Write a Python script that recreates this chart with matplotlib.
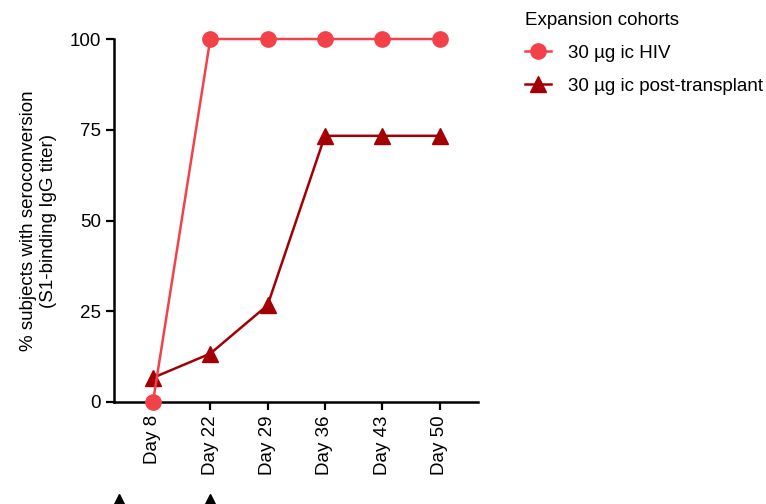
import matplotlib
matplotlib.use("Agg")
import matplotlib.pyplot as plt

plt.rcParams["font.family"] = ["Liberation Sans", "DejaVu Sans"]

days = ["Day 8", "Day 22", "Day 29", "Day 36", "Day 43", "Day 50"]
hiv = [0, 100, 100, 100, 100, 100]
post_transplant = [6.67, 13.33, 26.67, 73.33, 73.33, 73.33]
# dosing arrows (category positions: Day 1 sits left of Day 8, Day 22 at index 1)
dose_positions = [-0.6, 1.0]

HIV_COLOR = "#f3414a"
PT_COLOR = "#a30006"
FS = 13.5

fig = plt.figure(figsize=(7.66, 5.04), dpi=100)
ax = fig.add_axes([0.1488, 0.2024, 0.4752, 0.7202])

x = list(range(len(days)))
ax.plot(x, hiv, color=HIV_COLOR, marker="o", markersize=11, linewidth=1.8,
        label="30 µg ic HIV", clip_on=False, zorder=4)
ax.plot(x, post_transplant, color=PT_COLOR, marker="^", markersize=11, linewidth=1.8,
        label="30 µg ic post-transplant", clip_on=False, zorder=3)

ax.set_xlim(-0.68, 5.67)
ax.set_ylim(0, 100)
ax.set_yticks([0, 25, 50, 75, 100])
ax.set_xticks(x)
ax.set_xticklabels(days, rotation=90, fontsize=FS)
ax.tick_params(axis="y", labelsize=FS)
ax.tick_params(width=1.6, length=6, color="black")
ax.set_ylabel("% subjects with seroconversion\n(S1-binding IgG titer)", fontsize=FS,
              labelpad=9, linespacing=1.2)

for spine in ("top", "right"):
    ax.spines[spine].set_visible(False)
for spine in ("left", "bottom"):
    ax.spines[spine].set_linewidth(1.8)

# dosing markers below the axis
ax.plot(dose_positions, [-27.5, -27.5], linestyle="none", marker="^", markersize=12,
        color="black", clip_on=False)

fig.legend(loc="upper left", bbox_to_anchor=(0.663, 1.01), frameon=False,
           title="Expansion cohorts", fontsize=FS, title_fontsize=FS,
           handlelength=1.4, handletextpad=0.9, labelspacing=0.85, alignment="left")

fig.savefig("out.png", dpi=100)
